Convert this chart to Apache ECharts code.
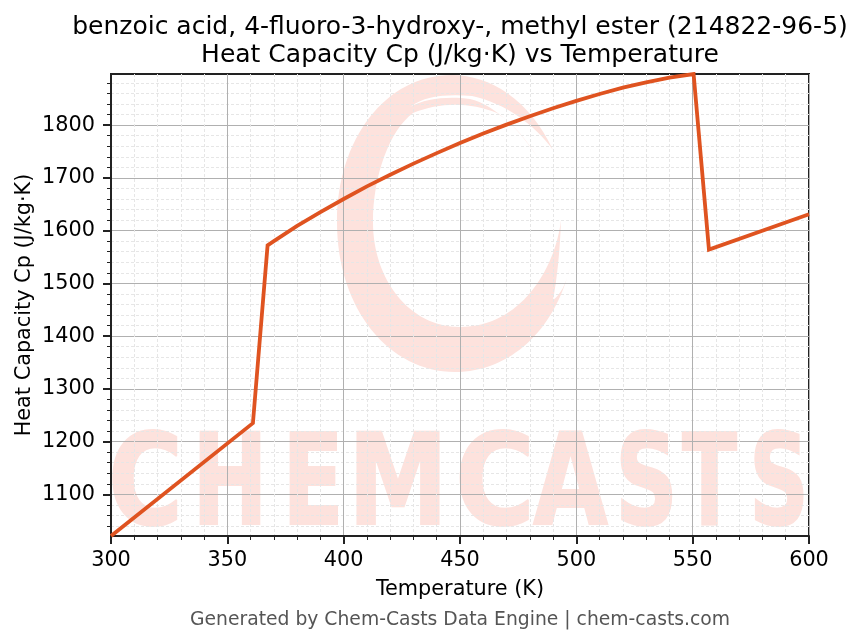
<!DOCTYPE html>
<html>
<head>
<meta charset="utf-8">
<style>
  html, body { margin: 0; padding: 0; background: #fff; }
  #chart { width: 863px; height: 644px; }
</style>
<script src="https://cdn.jsdelivr.net/npm/echarts@6/dist/echarts.min.js"></script>
</head>
<body>
<div id="chart"></div>
<script>
const temperature = [300, 361, 367.3, 370, 380, 390, 400, 410, 420, 430, 440, 450, 460, 470, 480, 490, 500, 510, 520, 530, 540, 550.4, 557, 600];
const heatCapacity = [1021, 1235, 1572, 1580, 1609, 1635, 1660, 1684, 1706, 1727, 1747, 1766, 1784, 1801, 1817, 1832, 1846, 1859, 1871, 1881, 1890, 1897, 1564, 1631];
const yTicks = [1100, 1200, 1300, 1400, 1500, 1600, 1700, 1800];
const yMinorTicks = [1040, 1060, 1080, 1120, 1140, 1160, 1180, 1220, 1240, 1260, 1280, 1320, 1340, 1360, 1380,
  1420, 1440, 1460, 1480, 1520, 1540, 1560, 1580, 1620, 1640, 1660, 1680, 1720, 1740, 1760, 1780,
  1820, 1840, 1860, 1880];

const FONT = '"DejaVu Sans"';
const WATERMARK = '#fde2dd';

// watermark letters: glyph, left edge, target width
const wmLetters = [
  ['C', 108, 75], ['H', 192, 76], ['E', 282, 62], ['M', 348, 100], ['C', 455, 80],
  ['A', 533, 75], ['S', 615, 63], ['T', 682, 55], ['S', 749, 60]
];
const wmAdvance = { C: 0.734, H: 0.837, E: 0.683, M: 0.995, A: 0.774, S: 0.72, T: 0.682 };
const wmSize = 141;

const ringPath = 'M553 150 C530 100 490 75 452 75 C385 75 337 140 337 222 C337 310 390 372 455 372 ' +
  'C510 372 555 330 570 267 C566 285 560 295 553 300 C557 280 560 250 561 220 ' +
  'C555 270 520 327 460 327 C410 327 373 280 373 222 C373 175 390 130 413 113 ' +
  'C440 102 470 102 497 113 C515 125 528 142 538 158 C520 130 495 105 470 99 ' +
  'C450 96 425 98 410 107 C425 95 450 94 472 96 C505 103 535 125 553 150 Z';

echarts.graphic.registerShape('wmRing', echarts.graphic.extendPath(ringPath));

const watermark = [{ type: 'wmRing', z: -1, silent: true, style: { fill: WATERMARK } }]
  .concat(wmLetters.map(l => ({
    type: 'text',
    z: -1,
    silent: true,
    x: l[1],
    y: 428,
    scaleX: l[2] / (wmAdvance[l[0]] * wmSize),
    scaleY: 0.9,
    style: { text: l[0], x: 0, y: 0, font: 'bold ' + wmSize + 'px ' + FONT, fill: WATERMARK, stroke: WATERMARK, lineWidth: 2 }
  })));

const chart = echarts.init(document.getElementById('chart'));
chart.setOption({
  animation: false,
  backgroundColor: '#fff',
  textStyle: { fontFamily: FONT },
  title: [
    {
      text: 'benzoic acid, 4-fluoro-3-hydroxy-, methyl ester (214822-96-5)\nHeat Capacity Cp (J/kg·K) vs Temperature',
      left: 460,
      top: 13,
      padding: 0,
      textAlign: 'center',
      textStyle: { fontFamily: FONT, fontWeight: 'normal', fontSize: 25, lineHeight: 28, color: '#000' }
    },
    {
      text: 'Generated by Chem-Casts Data Engine | chem-casts.com',
      left: 460,
      top: 611,
      padding: 0,
      textAlign: 'center',
      textStyle: { fontFamily: FONT, fontWeight: 'normal', fontSize: 18.75, color: '#555' }
    }
  ],
  graphic: watermark,
  grid: { left: 111, right: 54, top: 74, bottom: 108, show: true, borderColor: '#222', borderWidth: 2 },
  xAxis: {
    type: 'value',
    min: 300,
    max: 600,
    interval: 50,
    name: 'Temperature (K)',
    nameLocation: 'middle',
    nameGap: 43,
    nameMoveOverlap: false,
    nameTextStyle: { fontFamily: FONT, fontSize: 20.8, color: '#000' },
    axisLine: { show: true, lineStyle: { color: '#222', width: 2 } },
    axisTick: { show: true, length: 8, lineStyle: { color: '#222', width: 2 } },
    minorTick: { show: true, splitNumber: 5, length: 4, lineStyle: { color: '#222', width: 1 } },
    axisLabel: { fontFamily: FONT, fontSize: 20.8, color: '#000', margin: 14, formatter: v => String(v) },
    splitLine: { show: true, lineStyle: { color: '#b0b0b0', width: 1 } },
    minorSplitLine: { show: true, lineStyle: { color: '#e6e6e6', width: 1, type: [3, 2] } }
  },
  yAxis: [
    {
      type: 'value',
      min: 1021,
      max: 1897,
      name: 'Heat Capacity Cp (J/kg·K)',
      nameLocation: 'middle',
      nameGap: 76,
      nameMoveOverlap: false,
      nameTextStyle: { fontFamily: FONT, fontSize: 20.8, color: '#000' },
      axisLine: { show: true, lineStyle: { color: '#222', width: 2 } },
      axisTick: { show: true, length: 8, customValues: yTicks, lineStyle: { color: '#222', width: 2 } },
      axisLabel: { fontFamily: FONT, fontSize: 20.8, color: '#000', margin: 16, padding: [3, 0, 0, 0], customValues: yTicks, formatter: v => String(v) },
      splitLine: { show: true, lineStyle: { color: '#b0b0b0', width: 1 } }
    },
    {
      // second axis only carries the minor ticks and dashed minor grid
      type: 'value',
      min: 1021,
      max: 1897,
      position: 'left',
      axisLine: { show: false },
      axisTick: { show: true, length: 4, customValues: yMinorTicks, lineStyle: { color: '#222', width: 1 } },
      axisLabel: { show: false },
      splitLine: { show: true, lineStyle: { color: '#e6e6e6', width: 1, type: [3, 2] } }
    }
  ],
  series: [
    {
      type: 'line',
      yAxisIndex: 0,
      data: temperature.map((t, i) => [t, heatCapacity[i]]),
      showSymbol: false,
      lineStyle: { color: '#df5320', width: 3.8, join: 'miter' },
      z: 5
    }
  ]
});
</script>
</body>
</html>
